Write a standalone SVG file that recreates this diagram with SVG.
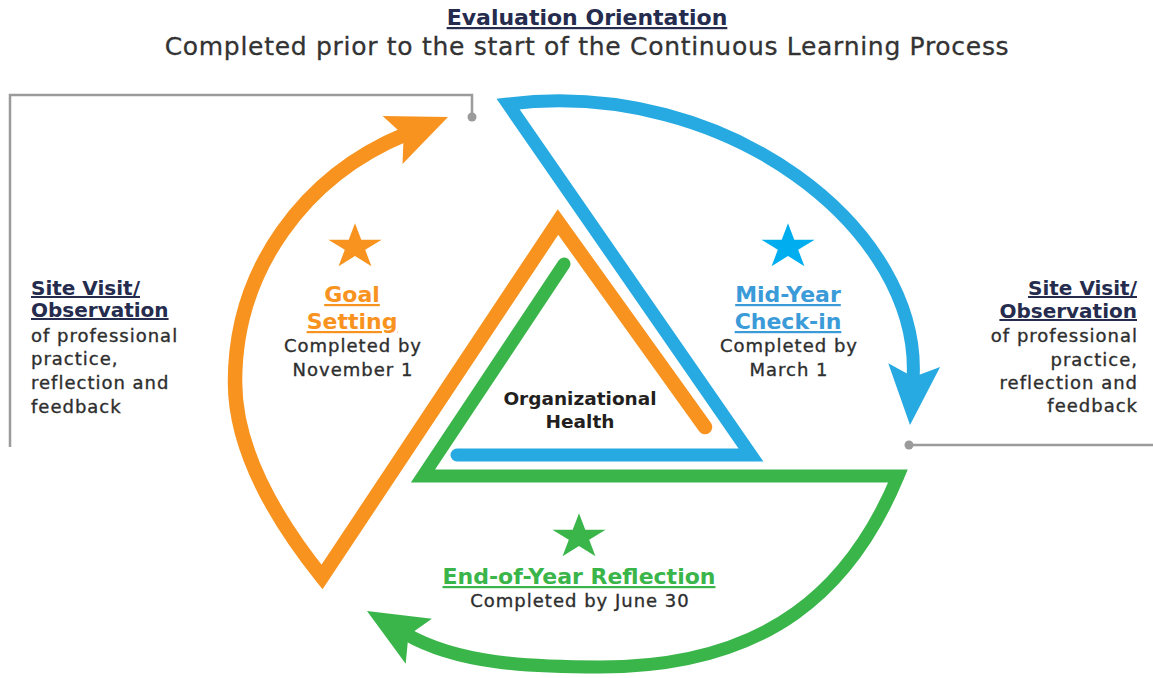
<svg xmlns="http://www.w3.org/2000/svg" width="1153" height="678" viewBox="0 0 1153 678">
  <defs>
    <style>
      text { font-family: "DejaVu Sans", "Liberation Sans", sans-serif; }
      .body { font-size: 18px; letter-spacing: 1px; fill: #2E2E2E; stroke: #2E2E2E; stroke-width: 0.35px; }
      .head { font-size: 22px; font-weight: bold; text-decoration: underline; text-decoration-thickness: 2px; text-underline-offset: 3px; }
      .side { font-size: 20px; font-weight: bold; fill: #252C4E; text-decoration: underline; text-decoration-thickness: 2px; text-underline-offset: 3px; }
      .core { font-size: 18.5px; font-weight: bold; fill: #231F20; }
      .mid { text-anchor: middle; }
      .end { text-anchor: end; }
      .cycle { fill: none; stroke-linejoin: miter; stroke-linecap: round; stroke-miterlimit: 10; }
      .bracket { fill: none; stroke: #9B9B9B; stroke-width: 2.5; }
      .dot { fill: #9B9B9B; }
    </style>
    <!-- five-point star, centred on the origin -->
    <path id="star" d="M0,-23.8 L6.29,-7.36 L26.63,-7.35 L10.18,2.81 L16.46,19.25 L0,9.1 L-16.46,19.25 L-10.18,2.81 L-26.63,-7.35 L-6.29,-7.36 Z"/>
    <!-- barbed arrowhead, tip at the origin, pointing along +x -->
    <path id="head" d="M0,0 L-60,-26 L-48,0 L-60,26 Z"/>
  </defs>

  <rect width="1153" height="678" fill="#ffffff"/>

  <!-- heading -->
  <g id="evaluation-orientation">
    <text class="mid" x="587" y="25" style="font-size:22px;font-weight:bold;fill:#252C4E;text-decoration:underline;text-decoration-thickness:2px;text-underline-offset:3px">Evaluation Orientation</text>
    <text class="mid" x="587" y="55" style="font-size:25px;letter-spacing:0.7px;fill:#333333;stroke:#333333;stroke-width:0.3px">Completed prior to the start of the Continuous Learning Process</text>
  </g>

  <!-- cycle arrows and site-visit brackets -->
  <g id="connectors">
    <path class="bracket" d="M10,447 V95 H472 V117"/>
    <circle class="dot" cx="472" cy="117" r="4.5"/>
    <path class="bracket" d="M909,445 H1153"/>
    <circle class="dot" cx="909" cy="445" r="4.5"/>

    <!-- orange: inner triangle side, then sweep up to the start -->
    <path class="cycle" stroke="#F7931E" stroke-width="14.5"
          d="M705,427 L558,222 L322,577 C278,522 235,452 235,382 C235,270 304,176 406,134"/>
    <use href="#head" fill="#F7931E" transform="translate(448,117) rotate(-22.5)"/>

    <!-- blue: inner base, long side, then sweep round to the right -->
    <path class="cycle" stroke="#27AAE1" stroke-width="13"
          d="M457,455 L751,455 L508,104 C727,77 923,230 913,380"/>
    <use href="#head" fill="#27AAE1" transform="translate(910,425) rotate(94)"/>

    <!-- green: inner side, base, then sweep round the bottom -->
    <path class="cycle" stroke="#39B54A" stroke-width="13"
          d="M564,264 L423,476 L898,476 C852,587 770,667 600,667 C530,667 458,664 406,634"/>
    <use href="#head" fill="#39B54A" transform="translate(367,611) rotate(-149.7)"/>
  </g>

  <g id="goal-setting">
    <use href="#star" fill="#F7931E" transform="translate(355,247)"/>
    <text class="head mid" x="352" y="302" fill="#F7931E">Goal</text>
    <text class="head mid" x="352" y="329" fill="#F7931E">Setting</text>
    <text class="body mid" x="353" y="352">Completed by</text>
    <text class="body mid" x="353" y="376">November 1</text>
  </g>

  <g id="mid-year-check-in">
    <use href="#star" fill="#00AEEF" transform="translate(788,247)"/>
    <text class="head mid" x="788" y="302" fill="#3B9AD8">Mid-Year</text>
    <text class="head mid" x="788" y="329" fill="#3B9AD8">Check-in</text>
    <text class="body mid" x="789" y="352">Completed by</text>
    <text class="body mid" x="789" y="376">March 1</text>
  </g>

  <g id="end-of-year-reflection">
    <use href="#star" fill="#39B54A" transform="translate(579,537)"/>
    <text class="head mid" x="579" y="584" fill="#39B54A">End-of-Year Reflection</text>
    <text class="body mid" x="580" y="607">Completed by June 30</text>
  </g>

  <g id="organizational-health">
    <text class="core mid" x="580" y="405">Organizational</text>
    <text class="core mid" x="580" y="428">Health</text>
  </g>

  <g id="site-visit-left">
    <text class="side" x="31" y="295">Site Visit/</text>
    <text class="side" x="31" y="317">Observation</text>
    <text class="body" x="31" y="342">of professional</text>
    <text class="body" x="31" y="365">practice,</text>
    <text class="body" x="31" y="389">reflection and</text>
    <text class="body" x="31" y="413">feedback</text>
  </g>

  <g id="site-visit-right">
    <text class="side end" x="1137" y="295">Site Visit/</text>
    <text class="side end" x="1137" y="318">Observation</text>
    <text class="body end" x="1138" y="342">of professional</text>
    <text class="body end" x="1138" y="366">practice,</text>
    <text class="body end" x="1138" y="389">reflection and</text>
    <text class="body end" x="1138" y="412">feedback</text>
  </g>
</svg>
